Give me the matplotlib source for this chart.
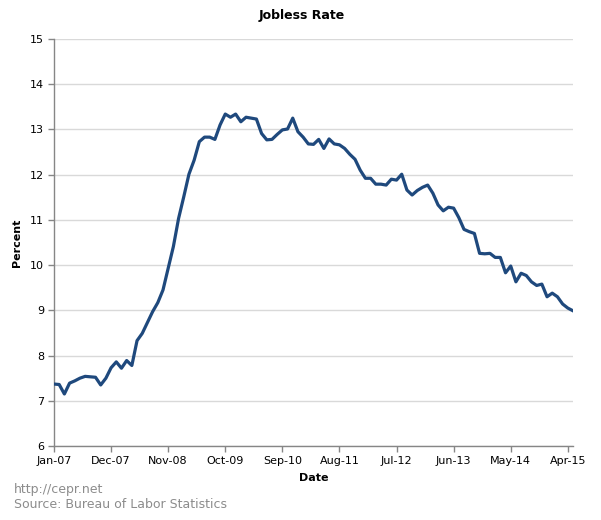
import matplotlib
matplotlib.use('Agg')
import matplotlib.pyplot as plt
import numpy as np

# monthly jobless rate, Jan-07 .. May-15
rate = [7.37, 7.36, 7.15, 7.39, 7.44, 7.50, 7.54, 7.53, 7.52, 7.35,
        7.50, 7.73, 7.86, 7.72, 7.89, 7.78, 8.33, 8.49, 8.73, 8.97,
        9.17, 9.45, 9.93, 10.41, 11.03, 11.51, 12.01, 12.32, 12.73, 12.83,
        12.83, 12.78, 13.10, 13.34, 13.27, 13.34, 13.17, 13.27, 13.25, 13.23,
        12.91, 12.77, 12.78, 12.89, 12.99, 13.01, 13.25, 12.95, 12.83, 12.68,
        12.67, 12.78, 12.58, 12.79, 12.68, 12.66, 12.58, 12.45, 12.34, 12.10,
        11.92, 11.92, 11.79, 11.79, 11.77, 11.90, 11.88, 12.01, 11.66, 11.55,
        11.65, 11.72, 11.77, 11.59, 11.33, 11.20, 11.28, 11.26, 11.05, 10.79,
        10.74, 10.70, 10.26, 10.25, 10.26, 10.17, 10.17, 9.83, 9.98, 9.63,
        9.82, 9.77, 9.63, 9.55, 9.58, 9.30, 9.38, 9.30, 9.14, 9.05,
        8.99]
tick_labels = ['Jan-07', 'Dec-07', 'Nov-08', 'Oct-09', 'Sep-10',
               'Aug-11', 'Jul-12', 'Jun-13', 'May-14', 'Apr-15']
y_ticks = [6, 7, 8, 9, 10, 11, 12, 13, 14, 15]

plt.rcParams['font.family'] = ['DejaVu Sans']

fig = plt.figure(figsize=(6.01, 5.2), dpi=100)
ax = fig.add_axes([54/601, 1 - 446/520, (573-54)/601, (446-39)/520])

x = np.arange(len(rate))
ax.plot(x, rate, color='#1F497D', linewidth=2.3, solid_joinstyle='round', zorder=3)

ax.set_xlim(0, len(rate) - 1)
ax.set_ylim(6, 15)
ax.set_xticks(np.arange(0, 100, 11))
ax.set_xticklabels(tick_labels, fontsize=8)
ax.set_yticks(y_ticks)
ax.set_yticklabels([str(v) for v in y_ticks], fontsize=8)

ax.grid(axis='y', color='#d9d9d9', linewidth=1)
ax.set_axisbelow(True)
for s in ['top', 'right']:
    ax.spines[s].set_visible(False)
for s in ['left', 'bottom']:
    ax.spines[s].set_color('#868686')
    ax.spines[s].set_linewidth(1)
ax.tick_params(axis='both', color='#868686', length=4, width=1, pad=3)

fig.text(302/601, 1 - 16/520, 'Jobless Rate', ha='center', va='center',
         fontsize=9, fontweight='bold')
ax.set_xlabel('Date', fontsize=8, fontweight='bold', labelpad=5)
ax.set_ylabel('Percent', fontsize=8, fontweight='bold', labelpad=6)

fig.text(14/601, 1 - 490/520, 'http://cepr.net', ha='left', va='center',
         fontsize=9, color='#8c8c8c')
fig.text(14/601, 1 - 505/520, 'Source: Bureau of Labor Statistics', ha='left',
         va='center', fontsize=9, color='#8c8c8c')

fig.savefig('out.png', dpi=100)
